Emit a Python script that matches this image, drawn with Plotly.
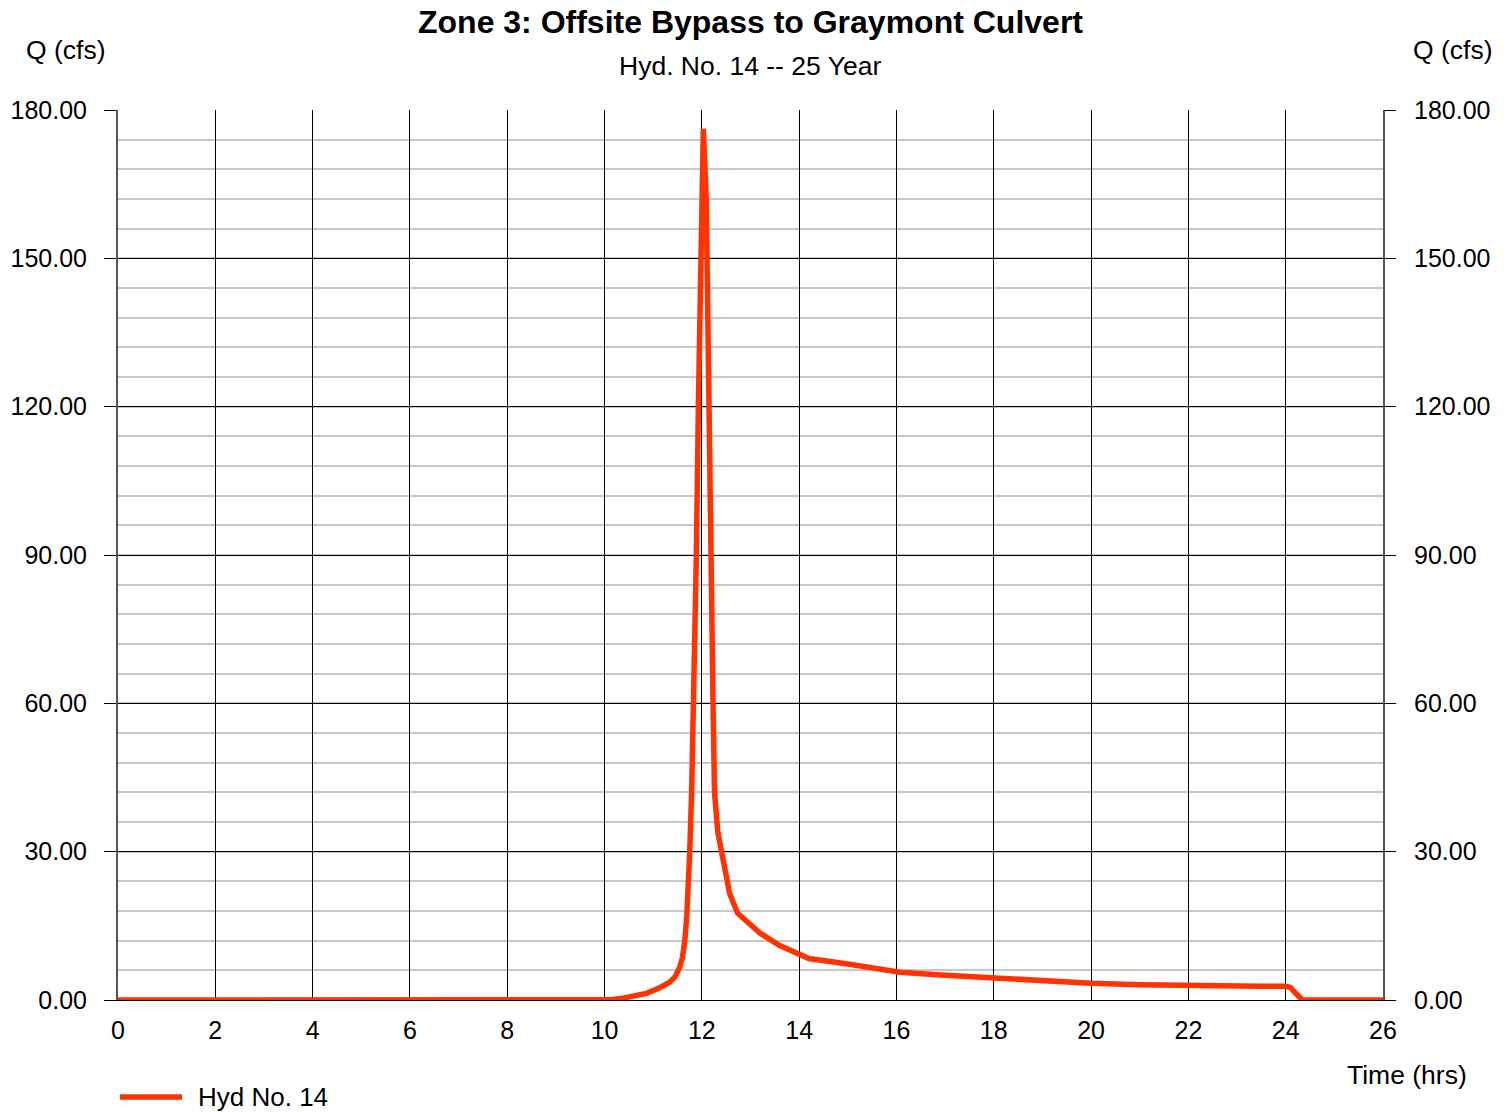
import plotly.graph_objects as go

# Hydrograph ordinates: time (hrs) and discharge Q (cfs)
time_hrs = [0.0, 10.0, 10.15, 10.4, 10.6, 10.86, 11.1, 11.34, 11.45, 11.54, 11.6,
            11.65, 11.69, 11.72, 11.75, 11.79, 11.83, 11.885, 11.93, 11.99, 12.03,
            12.09, 12.16, 12.19, 12.23, 12.26, 12.33, 12.40, 12.57, 12.73, 12.94,
            13.2, 13.6, 14.0, 14.2, 15.0, 16.07, 17.0, 17.98, 19.0, 20.0, 21.0,
            22.0, 22.86, 23.5, 24.0, 24.1, 24.2, 24.35, 26.0]
flow_cfs = [0.0, 0.0, 0.05, 0.4, 0.7, 1.35, 2.3, 3.6, 4.7, 6.5, 8.5,
            12.0, 17.0, 22.0, 29.7, 42.0, 60.0, 89.0, 121.0, 162.0, 176.2,
            162.0, 121.0, 89.0, 60.0, 42.0, 33.8, 30.0, 21.6, 17.6, 15.6,
            13.5, 11.0, 9.3, 8.4, 7.3, 5.6, 5.0, 4.4, 3.9, 3.4, 3.1,
            2.9, 2.8, 2.8, 2.8, 2.5, 1.4, 0.0, 0.0]

x_ticks = list(range(0, 27, 2))
y_ticks = [0, 30, 60, 90, 120, 150, 180]
y_tick_text = [f"{v:.2f}" for v in y_ticks]

series_name = "Hyd No. 14"
title_text = "Zone 3: Offsite Bypass to Graymont Culvert"
subtitle_text = "Hyd. No. 14 -- 25 Year"

FONT = "Liberation Sans, Arial, sans-serif"
LINE_COLOR = "#ff3300"

fig = go.Figure()
fig.add_trace(go.Scatter(
    x=time_hrs, y=flow_cfs, mode="lines", name=series_name,
    line=dict(color=LINE_COLOR, width=5.5), showlegend=False,
))
# mirror trace so the right-hand Q axis is drawn with identical scale
fig.add_trace(go.Scatter(
    x=time_hrs, y=flow_cfs, mode="lines", yaxis="y2",
    line=dict(color="rgba(0,0,0,0)", width=0), showlegend=False, hoverinfo="skip",
))

L, R, T, B = 118, 129, 110, 112
W, H = 1512, 1112
pw, ph = W - L - R, H - T - B

def px(xp):
    return (xp - L) / pw

def py(yp):
    return (H - B - yp) / ph

yaxis_common = dict(
    range=[0, 180], tickvals=y_ticks, ticktext=y_tick_text,
    ticks="outside", ticklen=12, tickcolor="black", tickwidth=1,
    tickfont=dict(family=FONT, size=25, color="black"),
    fixedrange=True, automargin=False,
)

fig.update_layout(
    width=W, height=H,
    margin=dict(l=L, r=R, t=T, b=B, autoexpand=False),
    paper_bgcolor="white", plot_bgcolor="white",
    showlegend=False,
    xaxis=dict(
        range=[0, 26], tickvals=x_ticks, ticks="",
        showgrid=True, gridcolor="black", gridwidth=1,
        showline=True, linecolor="black", linewidth=1,
        zeroline=False, ticklabelstandoff=8, automargin=False,
        tickfont=dict(family=FONT, size=25, color="black"),
    ),
    yaxis=dict(
        **yaxis_common, side="left",
        showgrid=True, gridcolor="black", gridwidth=1,
        minor=dict(dtick=6, showgrid=True, gridcolor="#c8c8c8", gridwidth=2),
        showline=True, linecolor="#555555", linewidth=2, mirror=True,
        zeroline=False, ticklabelstandoff=12,
    ),
    yaxis2=dict(
        **yaxis_common, side="right", overlaying="y",
        showgrid=False, showline=False, zeroline=False, ticklabelstandoff=13,
    ),
    title=dict(
        text=f"<b>{title_text}</b>", x=0.5, xref="paper", xanchor="center",
        y=1 - 22 / H, yref="container", yanchor="middle",
        font=dict(family=FONT, size=32, color="black"),
    ),
)

annotations = [
    dict(text=subtitle_text, x=px(750), y=py(66), size=26.5),
    dict(text="Q (cfs)", x=px(66), y=py(50), size=26.5),
    dict(text="Q (cfs)", x=px(1453), y=py(50), size=26.5),
    dict(text="Time (hrs)", x=px(1407), y=py(1075), size=26.5),
]
for a in annotations:
    fig.add_annotation(
        text=a["text"], x=a["x"], y=a["y"], xref="paper", yref="paper",
        xanchor="center", yanchor="middle", showarrow=False,
        font=dict(family=FONT, size=a["size"], color="black"),
    )

# legend key below the plot
fig.add_shape(type="line", xref="paper", yref="paper",
              x0=px(120), x1=px(182), y0=py(1097), y1=py(1097),
              line=dict(color=LINE_COLOR, width=5.5))
fig.add_annotation(text=series_name, x=px(196), y=py(1097), xref="paper", yref="paper",
                   xanchor="left", yanchor="middle", showarrow=False,
                   font=dict(family=FONT, size=26, color="black"))

fig.write_html("out.html")
